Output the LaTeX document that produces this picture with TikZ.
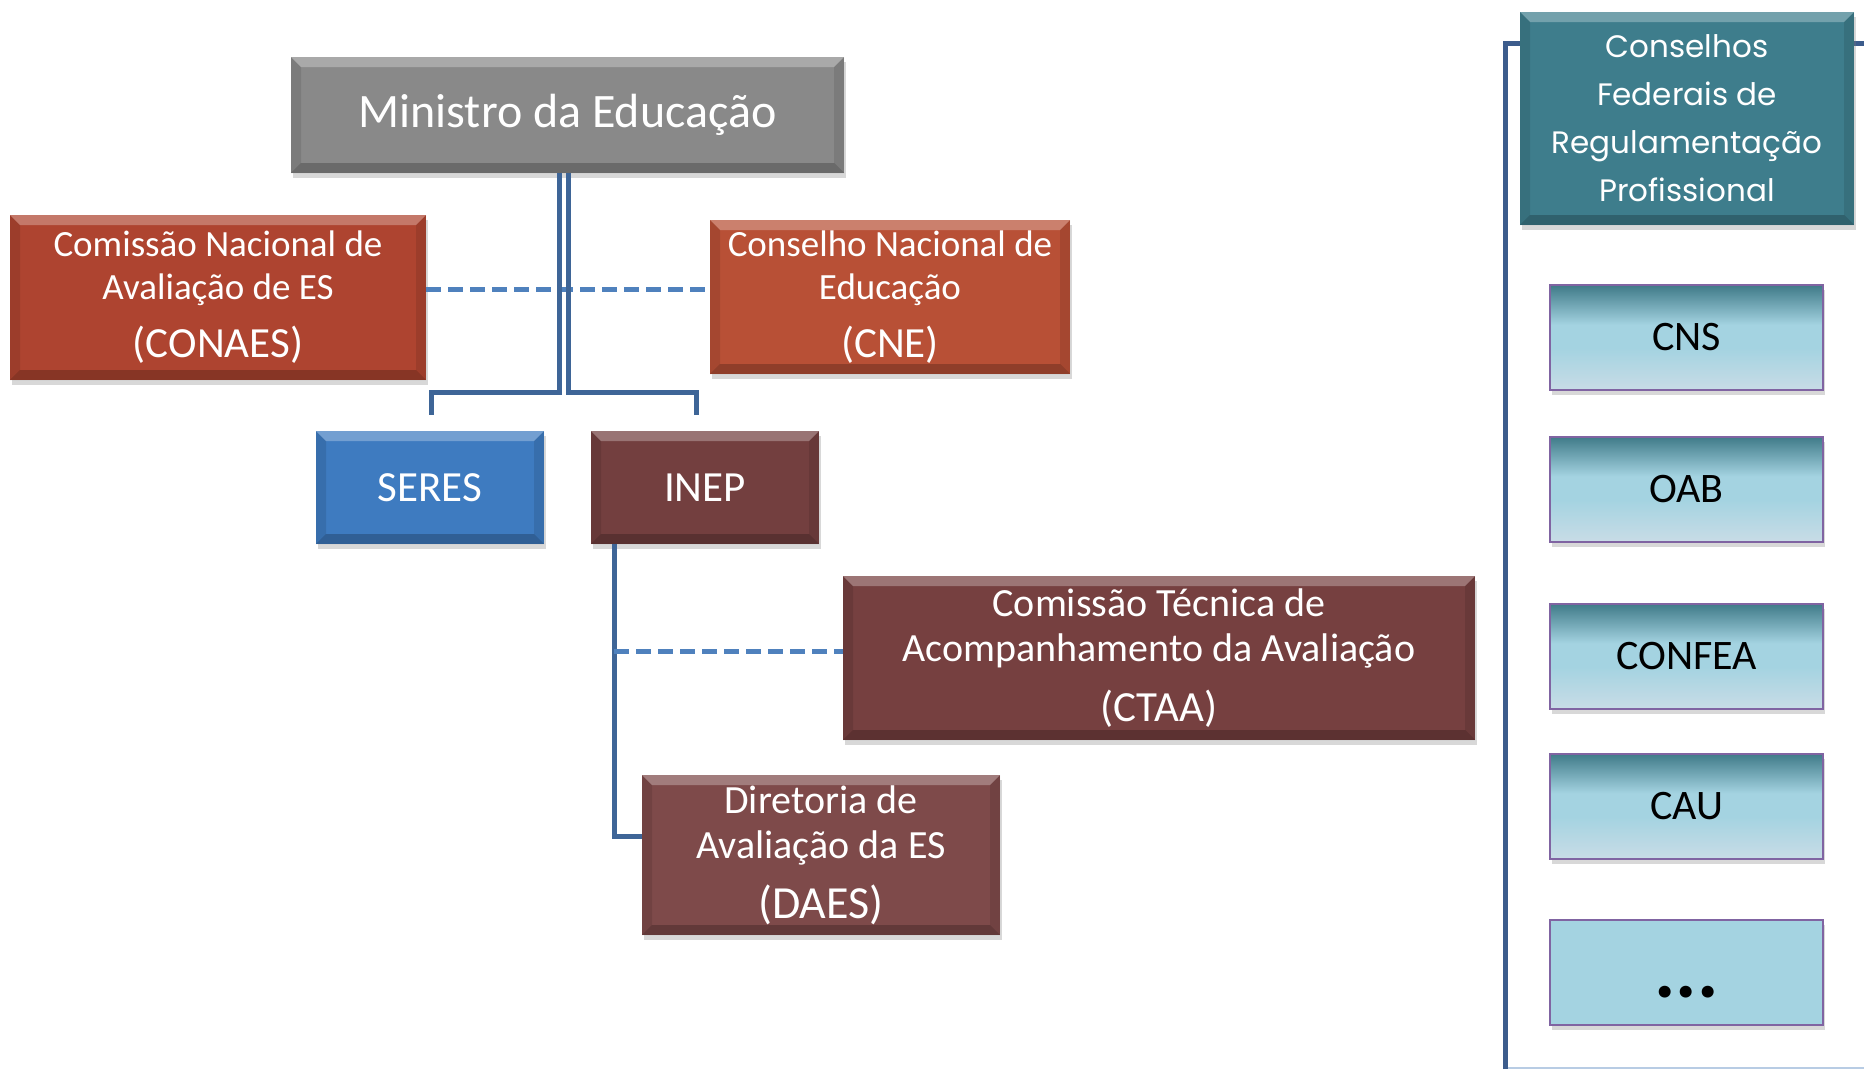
\documentclass[tikz,border=0pt]{standalone}
\usepackage{fontspec}
\setmainfont{Carlito}
\newfontfamily\gillfont{Poppins}
\usetikzlibrary{shadows}
\definecolor{cgray}{RGB}{137,137,137}
\definecolor{cconaes}{RGB}{174,68,48}
\definecolor{ccne}{RGB}{184,80,54}
\definecolor{cseres}{RGB}{62,123,192}
\definecolor{cinep}{RGB}{115,63,63}
\definecolor{cctaa}{RGB}{118,64,64}
\definecolor{cdaes}{RGB}{126,74,74}
\definecolor{ccfr}{RGB}{62,125,140}
\definecolor{csolid}{RGB}{62,101,151}
\definecolor{cdash}{RGB}{79,129,189}
\definecolor{cbrack}{RGB}{60,92,140}
\definecolor{cfaint}{RGB}{184,204,228}
\definecolor{gtop}{RGB}{63,122,136}
\definecolor{gmid}{RGB}{164,211,225}
\definecolor{gbot}{RGB}{200,220,230}
\definecolor{cborder}{RGB}{128,100,162}
\pgfdeclareverticalshading{cfgrad}{100bp}{color(0bp)=(gbot); color(25bp)=(gbot); color(45bp)=(gmid); color(56bp)=(gmid); color(75bp)=(gtop); color(100bp)=(gtop)}
\newcommand\bevelpic{%
  \coordinate (bnw) at (path picture bounding box.north west);
  \coordinate (bne) at (path picture bounding box.north east);
  \coordinate (bsw) at (path picture bounding box.south west);
  \coordinate (bse) at (path picture bounding box.south east);
  \fill[white,opacity=.28] (bnw) -- (bne) -- ([xshift=-10pt,yshift=-10pt]bne) -- ([xshift=10pt,yshift=-10pt]bnw) -- cycle;
  \fill[black,opacity=.22] (bsw) -- (bse) -- ([xshift=-10pt,yshift=10pt]bse) -- ([xshift=10pt,yshift=10pt]bsw) -- cycle;
  \fill[black,opacity=.10] (bnw) -- ([xshift=10pt,yshift=-10pt]bnw) -- ([xshift=10pt,yshift=10pt]bsw) -- (bsw) -- cycle;
  \fill[black,opacity=.10] (bne) -- ([xshift=-10pt,yshift=-10pt]bne) -- ([xshift=-10pt,yshift=10pt]bse) -- (bse) -- cycle;
}
\newcommand\abbrline[1]{{\fontsize{43}{50}\selectfont #1}}
\tikzset{
  shad/.style={drop shadow={opacity=0.3, shadow xshift=2pt, shadow yshift=-5pt}},
  box/.style={rectangle, inner sep=0pt, align=center, text=white,
    font=\fontsize{37}{43}\selectfont, shad, path picture={\bevelpic}},
  cfbox/.style={rectangle, inner sep=0pt, align=center, text=black,
    font=\fontsize{42}{48}\selectfont, draw=cborder, line width=2pt,
    minimum width=273pt, minimum height=105pt, shad},
  solidline/.style={draw=csolid, line width=5pt},
  dashline/.style={draw=cdash, line width=5pt, dash pattern=on 15pt off 7pt},
}
\begin{document}
\begin{tikzpicture}[x=1pt,y=-1pt]
\useasboundingbox[fill=white] (0,0) rectangle (1864,1069);
% right bracket (behind)
\coordinate (rbot) at (1505,1069);
\coordinate (rt) at (1505,43);
\coordinate (redge) at (1864,43);
\draw[draw=cfaint, line width=1.5pt] (1864,1068) -- (1508,1068);
\draw[draw=cbrack, line width=5pt] (rbot) -- (rt) -- (redge);

% nodes
\node[box, fill=cgray, minimum width=553pt, minimum height=116pt, font=\fontsize{48}{56}\selectfont] (min) at (567.5,115) {Ministro da Educação};
\node[box, fill=cconaes, minimum width=416pt, minimum height=165pt] (conaes) at (218,297.5) {Comissão Nacional de\\Avaliação de ES\\[15pt]\abbrline{(CONAES)}};
\node[box, fill=ccne, minimum width=360pt, minimum height=154pt] (cne) at (890,297) {Conselho Nacional de\\Educação\\[15pt]\abbrline{(CNE)}};
\node[box, fill=cseres, minimum width=228pt, minimum height=113pt, font=\fontsize{43}{50}\selectfont] (seres) at (430,487.5) {SERES};
\node[box, fill=cinep, minimum width=228pt, minimum height=113pt, font=\fontsize{43}{50}\selectfont] (inep) at (705,487.5) {INEP};
\node[box, fill=cctaa, minimum width=632pt, minimum height=164pt, font=\fontsize{40}{45}\selectfont] (ctaa) at (1159,658) {Comissão Técnica de\\Acompanhamento da Avaliação\\[15pt]\abbrline{(CTAA)}};
\node[box, fill=cdaes, minimum width=358pt, minimum height=160pt, font=\fontsize{40}{45}\selectfont] (daes) at (821,855) {Diretoria de\\Avaliação da ES\\[15pt]{\fontsize{46}{52}\selectfont (DAES)}};
\node[box, fill=ccfr, minimum width=334pt, minimum height=213pt, font=\gillfont\fontsize{31}{48}\selectfont] (cfr) at (1687,118.5) {Conselhos\\Federais de\\Regulamentação\\Profissional};
\node[cfbox, shading=cfgrad] (cns) at (1686.5,337.5) {CNS};
\node[cfbox, shading=cfgrad] (oab) at (1686.5,489) {OAB};
\node[cfbox, shading=cfgrad] (confea) at (1686.5,656) {CONFEA};
\node[cfbox, shading=cfgrad] (cau) at (1686.5,806) {CAU};
\node[cfbox, fill=gmid, font=\fontsize{80}{80}\selectfont\bfseries, text height=50pt, text depth=0pt] (dots) at (1686.5,972.5) {...};

% connectors
\coordinate (dy1) at (0,289);
\draw[dashline] (conaes.east |- dy1) -- (cne.west |- dy1);
\coordinate (vL) at (559,392);
\coordinate (vR) at (568,392);
\coordinate (lb) at (431,415);
\coordinate (rb) at (696,415);
\draw[solidline] (min.south -| vL) -- (vL) -| (lb);
\draw[solidline] (min.south -| vR) -- (vR) -| (rb);
\coordinate (iv) at (614,836);
\coordinate (id) at (614,651);
\draw[solidline] (inep.south -| iv) -- (iv) -- (daes.west |- iv);
\draw[dashline] (id) -- (ctaa.west |- id);
\end{tikzpicture}
\end{document}
